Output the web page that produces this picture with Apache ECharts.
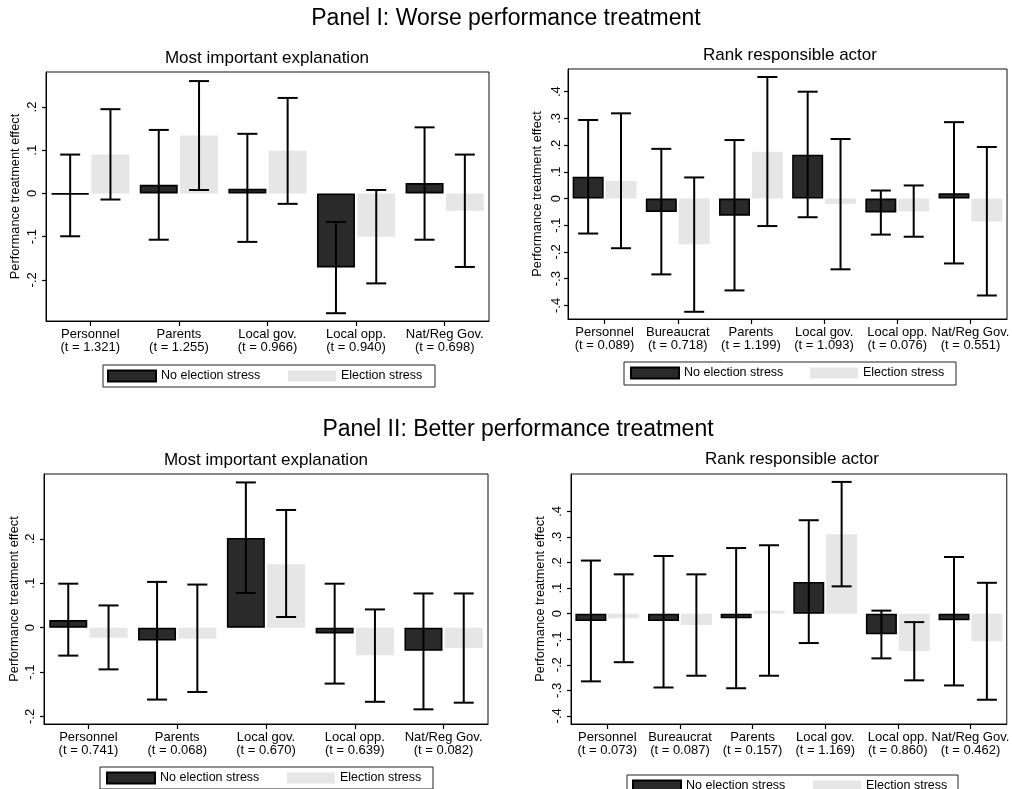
<!DOCTYPE html>
<html>
<head>
<meta charset="utf-8">
<script src="https://cdn.jsdelivr.net/npm/echarts@6/dist/echarts.min.js"></script>
<style>
html,body{margin:0;padding:0;background:#fff;}
#chart{width:1012px;height:789px;}
</style>
</head>
<body>
<div id="chart"></div>
<script>
// ---------------- DATA ----------------
const seriesNames = ['No election stress', 'Election stress'];

const catsExpl = ['Personnel', 'Parents', 'Local gov.', 'Local opp.', 'Nat/Reg Gov.'];
const catsRank = ['Personnel', 'Bureaucrat', 'Parents', 'Local gov.', 'Local opp.', 'Nat/Reg Gov.'];

const tWorseExpl  = ['1.321', '1.255', '0.966', '0.940', '0.698'];
const tWorseRank  = ['0.089', '0.718', '1.199', '1.093', '0.076', '0.551'];
const tBetterExpl = ['0.741', '0.068', '0.670', '0.639', '0.082'];
const tBetterRank = ['0.073', '0.087', '0.157', '1.169', '0.860', '0.462'];

// Panel I – Most important explanation
const worseExplNo     = [-0.002, 0.020, 0.011, -0.171, 0.024];
const worseExplNoLo   = [-0.099, -0.107, -0.112, -0.277, -0.107];
const worseExplNoHi   = [0.090, 0.147, 0.138, -0.066, 0.153];
const worseExplYes    = [0.090, 0.134, 0.099, -0.100, -0.040];
const worseExplYesLo  = [-0.014, 0.008, -0.024, -0.208, -0.170];
const worseExplYesHi  = [0.195, 0.260, 0.221, 0.008, 0.090];

// Panel I – Rank responsible actor
const worseRankNo     = [0.082, -0.050, -0.064, 0.164, -0.052, 0.020];
const worseRankNoLo   = [-0.131, -0.284, -0.344, -0.070, -0.135, -0.243];
const worseRankNoHi   = [0.294, 0.186, 0.219, 0.400, 0.030, 0.286];
const worseRankYes    = [0.066, -0.171, 0.175, -0.020, -0.048, -0.086];
const worseRankYesLo  = [-0.186, -0.424, -0.103, -0.265, -0.143, -0.363];
const worseRankYesHi  = [0.319, 0.079, 0.455, 0.223, 0.049, 0.193];

// Panel II – Most important explanation
const betterExplNo    = [0.017, -0.029, 0.202, -0.013, -0.052];
const betterExplNoLo  = [-0.063, -0.162, 0.078, -0.126, -0.184];
const betterExplNoHi  = [0.099, 0.103, 0.327, 0.099, 0.077];
const betterExplYes   = [-0.023, -0.025, 0.143, -0.062, -0.046];
const betterExplYesLo = [-0.094, -0.145, 0.024, -0.167, -0.169];
const betterExplYesHi = [0.050, 0.097, 0.265, 0.041, 0.077];

// Panel II – Rank responsible actor
const betterRankNo    = [-0.029, -0.029, -0.018, 0.124, -0.081, -0.026];
const betterRankNoLo  = [-0.265, -0.289, -0.292, -0.115, -0.175, -0.281];
const betterRankNoHi  = [0.208, 0.226, 0.257, 0.366, 0.012, 0.222];
const betterRankYes   = [-0.018, -0.044, 0.012, 0.311, -0.146, -0.108];
const betterRankYesLo = [-0.190, -0.243, -0.243, 0.107, -0.261, -0.337];
const betterRankYesHi = [0.154, 0.154, 0.268, 0.516, -0.033, 0.121];

const yTicksExpl = [-0.2, -0.1, 0, 0.1, 0.2];
const yTicksRank = [-0.4, -0.3, -0.2, -0.1, 0, 0.1, 0.2, 0.3, 0.4];

// ---------------- LAYOUT / STYLE ----------------
const FONT = "'Liberation Sans', Arial, Helvetica, sans-serif";
const BLACK_FILL = '#2a2a2a';
const GRAY_FILL = '#e6e6e6';

const panels = [
  { cats: catsExpl, t: tWorseExpl, no: worseExplNo, noLo: worseExplNoLo, noHi: worseExplNoHi,
    yes: worseExplYes, yesLo: worseExplYesLo, yesHi: worseExplYesHi, ticks: yTicksExpl,
    grid: {left: 46, top: 72, width: 443, height: 249}, min: -0.295, max: 0.281,
    bw: 38, labelMargin: 7.5, nameGap: 24,
    legend: {left: 103, top: 365, padding: [4, 5, 4, 4], w1: 127, w2: 89} },
  { cats: catsRank, t: tWorseRank, no: worseRankNo, noLo: worseRankNoLo, noHi: worseRankNoHi,
    yes: worseRankYes, yesLo: worseRankYesLo, yesHi: worseRankYesHi, ticks: yTicksRank,
    grid: {left: 568, top: 69, width: 443, height: 250}, min: -0.451, max: 0.485,
    bw: 31, labelMargin: 5, nameGap: 24,
    legend: {left: 624, top: 362, padding: [4, 5, 5, 6], w1: 126, w2: 88} },
  { cats: catsExpl, t: tBetterExpl, no: betterExplNo, noLo: betterExplNoLo, noHi: betterExplNoHi,
    yes: betterExplYes, yesLo: betterExplYesLo, yesHi: betterExplYesHi, ticks: yTicksExpl,
    grid: {left: 44, top: 474, width: 444, height: 250}, min: -0.217, max: 0.346,
    bw: 38, labelMargin: 7, nameGap: 23,
    legend: {left: 100, top: 767, padding: [4, 5, 4, 6], w1: 127, w2: 88} },
  { cats: catsRank, t: tBetterRank, no: betterRankNo, noLo: betterRankNoLo, noHi: betterRankNoHi,
    yes: betterRankYes, yesLo: betterRankYesLo, yesHi: betterRankYesHi, ticks: yTicksRank,
    grid: {left: 571, top: 474, width: 440, height: 250}, min: -0.432, max: 0.547,
    bw: 31, labelMargin: 7.5, nameGap: 24,
    legend: {left: 627, top: 775, padding: [4, 5, 4, 5], w1: 127, w2: 87} }
];

const BAR_GAP = 0.06; // fraction of bar width

function fmtTick(v) {
  if (Math.abs(v) < 1e-9) return '0';
  const r = Math.round(v * 10) / 10;
  return String(r).replace('0.', '.');
}

function errorSeries(p, pi, lo, hi, sign, name) {
  const off = sign * (p.bw / 2 + p.bw * BAR_GAP / 2);
  return {
    type: 'custom',
    name: name,
    xAxisIndex: pi, yAxisIndex: pi,
    z: 5,
    silent: true,
    encode: {x: 0, y: [1, 2]},
    data: lo.map((v, i) => [i, v, hi[i]]),
    renderItem: function (params, api) {
      const i = api.value(0);
      const a = api.coord([i, api.value(1)]);
      const b = api.coord([i, api.value(2)]);
      const x = a[0] + off;
      const h = 10;
      const st = {stroke: '#000', lineWidth: 2, fill: null};
      return {
        type: 'group',
        children: [
          {type: 'line', shape: {x1: x, y1: a[1], x2: x, y2: b[1]}, style: st},
          {type: 'line', shape: {x1: x - h, y1: a[1], x2: x + h, y2: a[1]}, style: st},
          {type: 'line', shape: {x1: x - h, y1: b[1], x2: x + h, y2: b[1]}, style: st}
        ]
      };
    }
  };
}

const grids = [], xAxes = [], yAxes = [], series = [], legends = [];

panels.forEach((p, pi) => {
  grids.push(Object.assign({show: true, borderColor: '#111', borderWidth: 1, backgroundColor: '#fff'}, p.grid));
  const tvals = p.t;
  xAxes.push({
    type: 'category', gridIndex: pi, data: p.cats, position: 'bottom',
    axisLine: {show: true, onZero: false, lineStyle: {color: '#000', width: 1}},
    axisTick: {show: true, alignWithLabel: true, length: 5, lineStyle: {color: '#000', width: 1.2}},
    axisLabel: {
      interval: 0, margin: 7, color: '#000', fontSize: 13, lineHeight: 13, fontFamily: FONT,
      formatter: (v, idx) => v + '\n(t = ' + tvals[idx] + ')'
    },
    splitLine: {show: false}
  });
  yAxes.push({
    type: 'value', gridIndex: pi, min: p.min, max: p.max,
    name: 'Performance treatment effect', nameLocation: 'middle', nameRotate: 90, nameGap: p.nameGap,
    nameTextStyle: {fontSize: 12.8, color: '#000', fontFamily: FONT},
    axisLine: {show: true, onZero: false, lineStyle: {color: '#000', width: 1}},
    axisTick: {show: true, length: 4, customValues: p.ticks, lineStyle: {color: '#000', width: 1.2}},
    axisLabel: {
      rotate: 90, margin: p.labelMargin, color: '#000', fontSize: 13, fontFamily: FONT,
      customValues: p.ticks, formatter: fmtTick
    },
    splitLine: {show: false}
  });
  series.push({
    type: 'bar', name: seriesNames[0], xAxisIndex: pi, yAxisIndex: pi,
    data: p.no, barWidth: p.bw, barGap: (BAR_GAP * 100) + '%',
    itemStyle: {color: BLACK_FILL, borderColor: '#000', borderWidth: 1.6},
    emphasis: {disabled: true}
  });
  series.push({
    type: 'bar', name: seriesNames[1], xAxisIndex: pi, yAxisIndex: pi,
    data: p.yes, barWidth: p.bw, barGap: (BAR_GAP * 100) + '%',
    itemStyle: {color: GRAY_FILL},
    emphasis: {disabled: true}
  });
  series.push(errorSeries(p, pi, p.noLo, p.noHi, -1, 'ci-no-' + pi));
  series.push(errorSeries(p, pi, p.yesLo, p.yesHi, 1, 'ci-yes-' + pi));
  legends.push({
    left: p.legend.left, top: p.legend.top, orient: 'horizontal',
    padding: p.legend.padding, itemGap: 0, itemWidth: 48, itemHeight: 11,
    borderColor: '#222', borderWidth: 1, backgroundColor: '#fff',
    selectedMode: false, icon: 'rect',
    textStyle: {fontSize: 12.5, color: '#000', fontFamily: FONT, lineHeight: 14},
    data: [
      {name: seriesNames[0], textStyle: {width: p.legend.w1}},
      {name: seriesNames[1], textStyle: {width: p.legend.w2}}
    ]
  });
});

const titles = [
  {text: 'Panel I: Worse performance treatment', left: 506, top: 7, textAlign: 'center',
   textStyle: {fontSize: 23, fontWeight: 'normal', color: '#000', fontFamily: FONT}},
  {text: 'Most important explanation', left: 267, top: 50, textAlign: 'center',
   textStyle: {fontSize: 17, fontWeight: 'normal', color: '#000', fontFamily: FONT}},
  {text: 'Rank responsible actor', left: 790, top: 47, textAlign: 'center',
   textStyle: {fontSize: 17, fontWeight: 'normal', color: '#000', fontFamily: FONT}},
  {text: 'Panel II: Better performance treatment', left: 518, top: 418, textAlign: 'center',
   textStyle: {fontSize: 23, fontWeight: 'normal', color: '#000', fontFamily: FONT}},
  {text: 'Most important explanation', left: 266, top: 452, textAlign: 'center',
   textStyle: {fontSize: 17, fontWeight: 'normal', color: '#000', fontFamily: FONT}},
  {text: 'Rank responsible actor', left: 792, top: 451, textAlign: 'center',
   textStyle: {fontSize: 17, fontWeight: 'normal', color: '#000', fontFamily: FONT}}
].map(t => Object.assign({padding: 0}, t));

const chart = echarts.init(document.getElementById('chart'), null, {renderer: 'canvas'});
chart.setOption({
  backgroundColor: '#fff',
  animation: false,
  title: titles,
  grid: grids,
  xAxis: xAxes,
  yAxis: yAxes,
  legend: legends,
  series: series
});
</script>
</body>
</html>
